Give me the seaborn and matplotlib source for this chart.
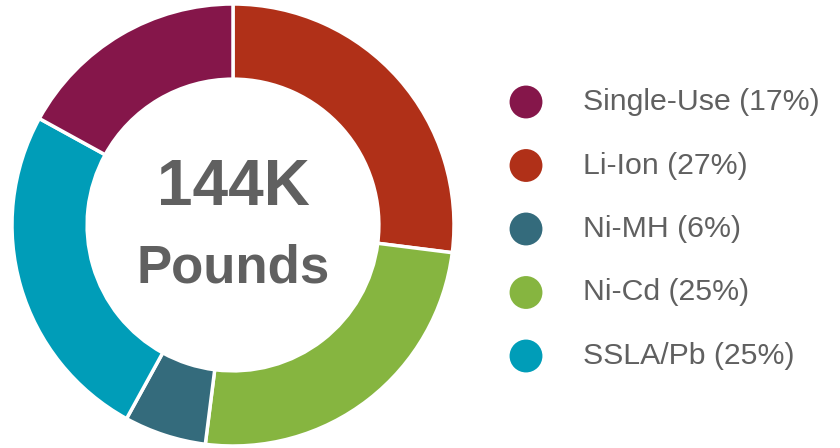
import matplotlib
matplotlib.use("Agg")
import matplotlib.pyplot as plt
import seaborn as sns
import pandas as pd

# Data (clockwise from top)
ring_labels = ["Li-Ion", "Ni-Cd", "Ni-MH", "SSLA/Pb", "Single-Use"]
ring_values = [27, 25, 6, 25, 17]
ring_colors = ["#B03018", "#86B540", "#346B7C", "#009DB8", "#85164A"]

# Legend order
legend_labels = ["Single-Use", "Li-Ion", "Ni-MH", "Ni-Cd", "SSLA/Pb"]
center_lines = ["144K", "Pounds"]

sns.set_theme(style="white")
plt.rcParams['font.family'] = ['Liberation Sans', 'DejaVu Sans']

W, H, DPI = 840, 448, 100
fig = plt.figure(figsize=(W / DPI, H / DPI), dpi=DPI)

# Donut
cx, cy, R = 233, 225, 221
ax = fig.add_axes([(cx - R) / W, (H - cy - R) / H, 2 * R / W, 2 * R / H])
ax.pie(ring_values, colors=ring_colors, startangle=90, counterclock=False,
       radius=1.0, wedgeprops=dict(width=0.34, edgecolor="white", linewidth=2.5))
ax.set_xlim(-1, 1)
ax.set_ylim(-1, 1)
ax.set_aspect("equal")
ax.axis("off")

gray = "#606060"
ax.text(0, 0.09, center_lines[0], ha="center", va="baseline", fontsize=46,
        fontweight="bold", color=gray)
ax.text(0, -0.262, center_lines[1], ha="center", va="baseline", fontsize=38,
        fontweight="bold", color=gray)

# Legend drawn in pixel-space overlay axes
lax = fig.add_axes([0, 0, 1, 1])
lax.set_xlim(0, W)
lax.set_ylim(H, 0)
lax.axis("off")
color_of = dict(zip(ring_labels, ring_colors))
value_of = dict(zip(ring_labels, ring_values))
leg_df = pd.DataFrame({
    "label": legend_labels,
    "x": [526] * len(legend_labels),
    "y": [102 + i * 63.5 for i in range(len(legend_labels))],
})
sns.scatterplot(data=leg_df, x="x", y="y", hue="label",
                palette=[color_of[l] for l in legend_labels],
                s=560, linewidth=0, legend=False, ax=lax)
for _, row in leg_df.iterrows():
    lax.text(583, row["y"], f"{row['label']} ({value_of[row['label']]}%)",
             ha="left", va="center", fontsize=21.8, color=gray)
lax.set_xlim(0, W)
lax.set_ylim(H, 0)

fig.savefig("out.png", dpi=DPI)
